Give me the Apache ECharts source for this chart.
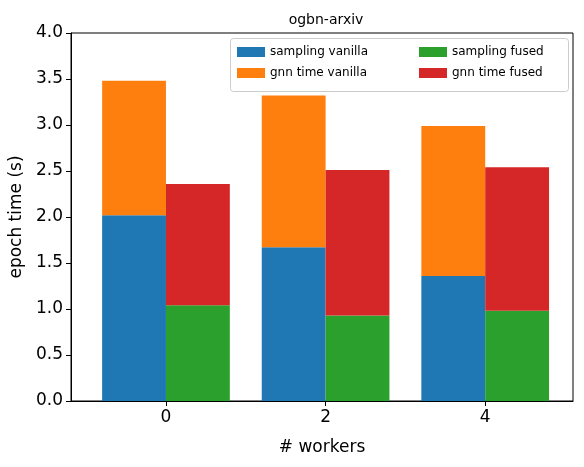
<!DOCTYPE html>
<html><head><meta charset="utf-8">
<script src="https://cdn.jsdelivr.net/npm/echarts@6/dist/echarts.min.js"></script>
<style>body{margin:0}#c{width:584px;height:467px}</style></head>
<body><div id="c"></div>
<script>
const workers = [0, 2, 4];
const samplingVanilla = [2.02, 1.67, 1.36];
const gnnVanilla = [1.46, 1.65, 1.63];
const samplingFused = [1.04, 0.93, 0.98];
const gnnFused = [1.32, 1.58, 1.56];
const yTicks = [0, 0.5, 1, 1.5, 2, 2.5, 3, 3.5, 4];

const off = 0.4, halfW = 0.4;
const F = 'DejaVu Sans';
// data items: [x, base, value]
const mk = (arr, base, d) => arr.map((v, i) => [workers[i] + d, base ? base[i] : 0, v]);
const ser = (name, data, color) => ({
  name, type: 'custom', data, itemStyle: { color },
  encode: { x: 0, y: [1, 2] },
  renderItem: (params, api) => {
    const x = api.value(0), b = api.value(1), v = api.value(2);
    const p0 = api.coord([x - halfW, b + v]);
    const p1 = api.coord([x + halfW, b]);
    return { type: 'rect', shape: { x: p0[0], y: p0[1], width: p1[0] - p0[0], height: p1[1] - p0[1] },
      style: { fill: color } };
  }
});
const legText = { fontFamily: F, fontSize: 12, color: '#000' };
const chart = echarts.init(document.getElementById('c'));
chart.setOption({
  animation: false,
  title: { text: 'ogbn-arxiv', left: 321, top: 8, textAlign: 'center',
    textStyle: { fontFamily: F, fontSize: 14, fontWeight: 'normal', color: '#000' } },
  grid: { left: 69, right: 11, top: 33, bottom: 66, show: true, borderColor: '#000', borderWidth: 1 },
  graphic: [{ type: 'rect', left: 230, top: 38, shape: { width: 338, height: 53, r: 3 },
    style: { fill: 'rgba(255,255,255,0.8)', stroke: '#ccc', lineWidth: 1 }, z: 0 }],
  legend: [
    { data: ['sampling vanilla', 'gnn time vanilla'], orient: 'vertical', left: 232, top: 41,
      itemWidth: 28, itemHeight: 10, itemGap: 9, icon: 'rect', textStyle: legText },
    { data: ['sampling fused', 'gnn time fused'], orient: 'vertical', left: 414, top: 41,
      itemWidth: 28, itemHeight: 10, itemGap: 9, icon: 'rect', textStyle: legText }
  ],
  xAxis: {
    type: 'value', min: -1.19, max: 5.1,
    name: '# workers', nameLocation: 'middle', nameGap: 38,
    nameTextStyle: { fontFamily: F, fontSize: 17, color: '#000' },
    axisLine: { lineStyle: { color: '#000' } },
    axisTick: { show: true, customValues: workers, lineStyle: { color: '#000' } },
    axisLabel: { customValues: workers, fontFamily: F, fontSize: 17, color: '#000', margin: 8 },
    splitLine: { show: false }
  },
  yAxis: {
    type: 'value', min: 0, max: 4, interval: 0.5,
    name: 'epoch time (s)', nameLocation: 'middle', nameGap: 46,
    nameTextStyle: { fontFamily: F, fontSize: 17, color: '#000' },
    axisLine: { show: true, onZero: false, lineStyle: { color: '#000' } },
    axisTick: { show: true, lineStyle: { color: '#000' } },
    axisLabel: { fontFamily: F, fontSize: 17, color: '#000', formatter: v => v.toFixed(1) },
    splitLine: { show: false }
  },
  series: [
    ser('sampling vanilla', mk(samplingVanilla, null, -off), '#1f77b4'),
    ser('gnn time vanilla', mk(gnnVanilla, samplingVanilla, -off), '#ff7f0e'),
    ser('sampling fused', mk(samplingFused, null, off), '#2ca02c'),
    ser('gnn time fused', mk(gnnFused, samplingFused, off), '#d62728')
  ]
});
</script></body></html>
